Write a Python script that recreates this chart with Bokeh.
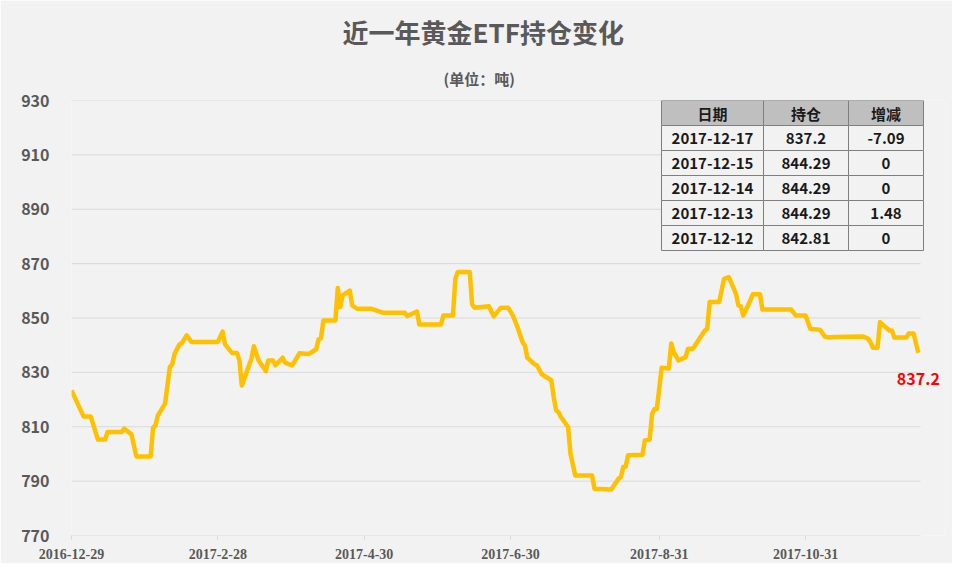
import pandas as pd
from bokeh.plotting import figure
from bokeh.models import ColumnDataSource, Range1d, FixedTicker, Label, Title
from bokeh.core.properties import value
from bokeh.embed import file_html
from bokeh.resources import INLINE

# ---------------- data ----------------
dates = [
    "2016-12-29", "2017-01-03", "2017-01-06", "2017-01-09", "2017-01-12", "2017-01-13",
    "2017-01-19", "2017-01-20", "2017-01-23", "2017-01-25", "2017-01-31", "2017-02-01",
    "2017-02-02", "2017-02-03", "2017-02-06", "2017-02-08", "2017-02-09", "2017-02-10",
    "2017-02-12", "2017-02-13", "2017-02-15", "2017-02-17", "2017-02-28", "2017-03-02",
    "2017-03-03", "2017-03-06", "2017-03-08", "2017-03-09", "2017-03-10", "2017-03-14",
    "2017-03-15", "2017-03-17", "2017-03-20", "2017-03-21", "2017-03-23", "2017-03-24",
    "2017-03-27", "2017-03-28", "2017-03-31", "2017-04-03", "2017-04-07", "2017-04-10",
    "2017-04-11", "2017-04-12", "2017-04-13", "2017-04-18", "2017-04-19", "2017-04-20",
    "2017-04-21", "2017-04-24", "2017-04-25", "2017-04-27", "2017-05-03", "2017-05-05",
    "2017-05-08", "2017-05-17", "2017-05-18", "2017-05-22", "2017-05-23", "2017-06-01",
    "2017-06-02", "2017-06-06", "2017-06-07", "2017-06-08", "2017-06-13", "2017-06-14",
    "2017-06-15", "2017-06-21", "2017-06-23", "2017-06-26", "2017-06-29", "2017-07-01",
    "2017-07-03", "2017-07-05", "2017-07-06", "2017-07-07", "2017-07-10", "2017-07-11",
    "2017-07-13", "2017-07-17", "2017-07-18", "2017-07-19", "2017-07-20", "2017-07-21",
    "2017-07-24", "2017-07-25", "2017-07-27", "2017-08-03", "2017-08-04", "2017-08-11",
    "2017-08-14", "2017-08-15", "2017-08-16", "2017-08-17", "2017-08-18", "2017-08-24",
    "2017-08-25", "2017-08-27", "2017-08-28", "2017-08-29", "2017-08-30", "2017-09-01",
    "2017-09-04", "2017-09-05", "2017-09-06", "2017-09-08", "2017-09-11", "2017-09-12",
    "2017-09-14", "2017-09-19", "2017-09-20", "2017-09-21", "2017-09-25", "2017-09-27",
    "2017-09-29", "2017-10-02", "2017-10-03", "2017-10-04", "2017-10-05", "2017-10-07",
    "2017-10-09", "2017-10-12", "2017-10-13", "2017-10-25", "2017-10-27", "2017-10-31",
    "2017-11-02", "2017-11-06", "2017-11-08", "2017-11-10", "2017-11-12", "2017-11-24",
    "2017-11-26", "2017-11-27", "2017-11-28", "2017-11-30", "2017-12-01", "2017-12-03",
    "2017-12-05", "2017-12-06", "2017-12-07", "2017-12-12", "2017-12-13", "2017-12-14",
    "2017-12-15", "2017-12-17",
]
holdings = [
    823.4, 813.8, 813.8, 805.3, 805.3, 808.1,
    808.1, 809.3, 807.2, 799.1, 799.1, 809.7,
    810.5, 814.2, 818.5, 832.0, 833.0, 836.9,
    840.3, 840.8, 843.6, 841.2, 841.2, 845.0,
    840.3, 837.1, 837.1, 834.4, 825.2, 835.0,
    839.6, 834.4, 830.5, 834.4, 834.4, 832.6,
    835.4, 833.6, 832.6, 837.0, 836.8, 838.5,
    842.2, 842.6, 849.1, 849.1, 861.0, 854.0,
    858.3, 860.1, 854.6, 853.4, 853.4, 852.8,
    851.9, 851.9, 850.7, 852.4, 847.6, 847.6,
    850.9, 850.9, 864.4, 866.9, 866.9, 855.0,
    853.8, 854.3, 850.6, 853.8, 853.8, 850.9,
    846.4, 841.2, 839.9, 835.4, 833.0, 832.6,
    829.3, 827.1, 821.0, 816.0, 815.4, 813.6,
    809.9, 800.1, 792.1, 792.1, 787.2, 786.9,
    790.9, 791.5, 795.2, 795.4, 799.5, 799.7,
    805.0, 805.3, 814.7, 816.5, 816.5, 831.7,
    831.4, 840.6, 837.5, 834.4, 835.6, 838.7,
    838.7, 845.4, 846.0, 855.9, 855.9, 864.4,
    865.0, 858.9, 854.6, 854.3, 850.9, 854.6,
    858.7, 858.7, 853.1, 853.1, 850.9, 850.9,
    846.0, 845.7, 843.2, 842.8, 843.0, 843.2,
    842.4, 841.2, 839.1, 839.1, 848.5, 846.9,
    845.4, 845.4, 842.81, 842.81, 844.29, 844.29,
    844.29, 837.2,
]

tick_dates = ["2016-12-29", "2017-02-28", "2017-04-30", "2017-06-30", "2017-08-31", "2017-10-31"]
tick_labels = ["2016-12-29", "2017-2-28", "2017-4-30", "2017-6-30", "2017-8-31", "2017-10-31"]
y_ticks = [770, 790, 810, 830, 850, 870, 890, 910, 930]

title_text = "近一年黄金ETF持仓变化"
subtitle_text = "(单位：吨)"

table_header = ["日期", "持仓", "增减"]
table_dates = ["2017-12-17", "2017-12-15", "2017-12-14", "2017-12-13", "2017-12-12"]
table_holdings = ["837.2", "844.29", "844.29", "844.29", "842.81"]
table_change = ["-7.09", "0", "0", "1.48", "0"]

# ---------------- layout constants ----------------
W, H = 952, 563
LEFT, TOP = 71, 100
GRID_W = 849          # width of the gridded plot area (px)
FRAME_W = 874         # frame extends a little to the right so the end label is not clipped
FRAME_H = 435
DAYS_IN_GRID = 353.9
BG = "#f2f2f2"
TEXT = "#595959"
FONT = "Noto Sans CJK SC"

def ms(d):
    return pd.Timestamp(d).value / 1e6

DAY_MS = 86400000.0
x_start = ms("2016-12-29")
x_end = x_start + DAYS_IN_GRID * FRAME_W / GRID_W * DAY_MS
y_start, y_end = 770, 930

def px_x(px):  # frame-relative pixel -> data x
    return x_start + px / FRAME_W * (x_end - x_start)

def px_y(py):  # frame-relative pixel (from top) -> data y
    return y_end - py / FRAME_H * (y_end - y_start)

src = ColumnDataSource(dict(x=[ms(d) for d in dates], y=holdings))

p = figure(width=W, height=H, output_backend="svg", toolbar_location=None,
           x_range=Range1d(x_start, x_end), y_range=Range1d(y_start, y_end),
           min_border_left=LEFT, min_border_right=W - LEFT - FRAME_W,
           min_border_top=TOP, min_border_bottom=H - TOP - FRAME_H,
           background_fill_color=BG, border_fill_color=BG, outline_line_color=None)

# titles (left aligned with offsets so they are centred on the gridded area)
p.title = Title(text=title_text, align="left", text_font=FONT, text_font_size="26px",
                text_font_style="bold", text_color=TEXT, standoff=7, offset=271)
p.add_layout(Title(text=subtitle_text, align="left", text_font=FONT, text_font_size="15px",
                   text_font_style="bold", text_color=TEXT, standoff=24, offset=372), "above")

# axes
p.xaxis.ticker = FixedTicker(ticks=[ms(d) for d in tick_dates])
p.xaxis.major_label_overrides = {ms(d): lab for d, lab in zip(tick_dates, tick_labels)}
p.xaxis.axis_line_color = None
p.xaxis.major_tick_line_color = "#d9d9d9"
p.xaxis.major_tick_in = 0
p.xaxis.major_tick_out = 4
p.xaxis.minor_tick_line_color = None
p.xaxis.major_label_standoff = 9
p.xaxis.major_label_text_font = "Liberation Sans Narrow"
p.xaxis.major_label_text_font_size = "14px"
p.xaxis.major_label_text_font_style = "bold"
p.xaxis.major_label_text_color = TEXT

p.yaxis.ticker = FixedTicker(ticks=y_ticks)
p.yaxis.axis_line_color = None
p.yaxis.major_tick_line_color = None
p.yaxis.major_tick_in = 0
p.yaxis.major_tick_out = 0
p.yaxis.minor_tick_line_color = None
p.yaxis.major_label_standoff = 22
p.yaxis.major_label_text_font = FONT
p.yaxis.major_label_text_font_size = "16px"
p.yaxis.major_label_text_font_style = "bold"
p.yaxis.major_label_text_color = TEXT

p.xgrid.grid_line_color = None
p.ygrid.grid_line_color = None

# horizontal gridlines only across the gridded area
p.segment(x0=[x_start] * len(y_ticks), x1=[px_x(GRID_W)] * len(y_ticks), y0=y_ticks, y1=y_ticks,
          line_color="#d9d9d9", line_width=1)

# line
p.line("x", "y", source=src, line_color="#FFC000", line_width=4.5, line_join="round")

# end label
p.add_layout(Label(x=ms(dates[-1]), y=holdings[-1], text=f"{holdings[-1]}", y_offset=-26,
                   text_align="center", text_baseline="middle", text_color="#ff0000",
                   text_font=FONT, text_font_size="16px", text_font_style="bold"))

# table
col_px = [590, 692, 777, 852]
row_h = 25
rows = [table_header] + [[a, b, c] for a, b, c in zip(table_dates, table_holdings, table_change)]
ql, qr, qt, qb, qf = [], [], [], [], []
tx, ty, tt = [], [], []
for r, row in enumerate(rows):
    for c, txt in enumerate(row):
        ql.append(px_x(col_px[c])); qr.append(px_x(col_px[c + 1]))
        qt.append(px_y(r * row_h)); qb.append(px_y((r + 1) * row_h))
        qf.append("#bfbfbf" if r == 0 else BG)
        tx.append(px_x((col_px[c] + col_px[c + 1]) / 2))
        ty.append(px_y(r * row_h + row_h / 2))
        tt.append(txt)
p.quad(left=ql, right=qr, top=qt, bottom=qb, fill_color=qf, line_color="#7f7f7f", line_width=1)
p.text(x=tx, y=ty, text=tt, text_align="center", text_baseline="middle",
       text_font=value(FONT), text_font_size="15px", text_font_style="bold", text_color="#1a1a1a")

open("out.html", "w").write(file_html(p, INLINE))
